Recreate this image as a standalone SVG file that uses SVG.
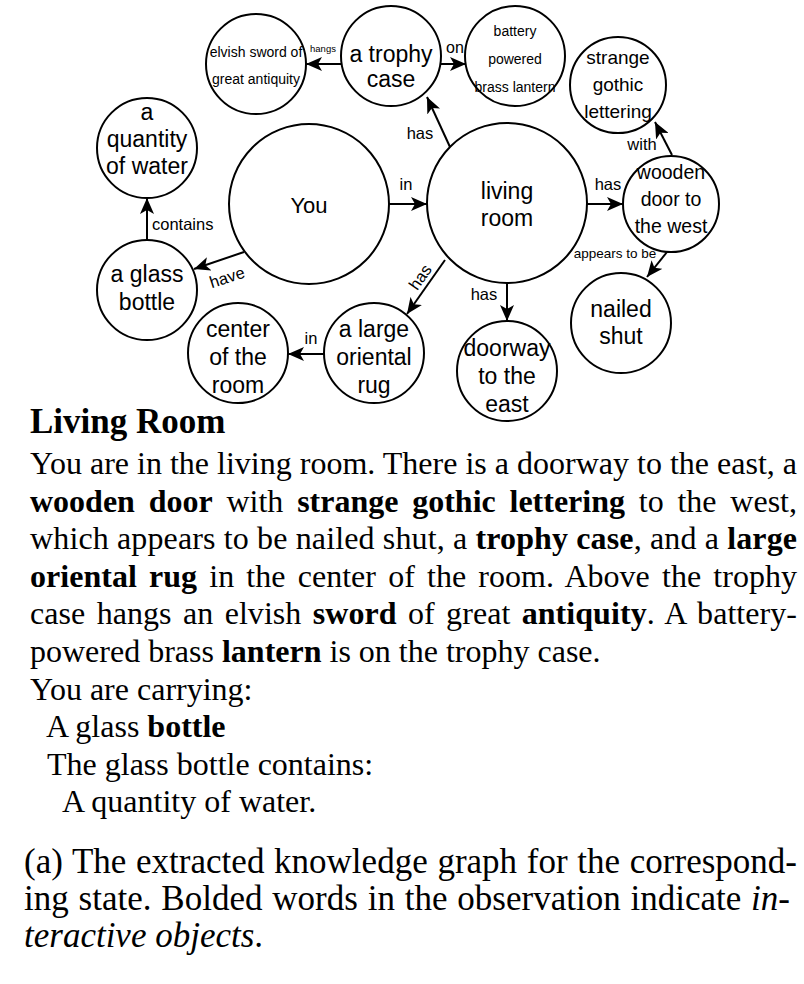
<svg xmlns="http://www.w3.org/2000/svg" width="804" height="984" viewBox="0 0 804 984">
<style>
.node circle { fill:#fff; stroke:#000; stroke-width:2; }
.nt { font-family:"Liberation Sans", Arial, sans-serif; font-size:23px; text-anchor:middle; fill:#000; }
.ns { font-size:14px; }
.nm { font-size:19.5px; }
.edge line { stroke:#000; stroke-width:2; marker-end:url(#arr); }
.el { font-family:"Liberation Sans", Arial, sans-serif; font-size:16.5px; text-anchor:middle; fill:#000; }
.body { font-family:"Liberation Serif", "Times New Roman", serif; font-size:32px; fill:#000; }
.cap { font-family:"Liberation Serif", "Times New Roman", serif; font-size:35px; fill:#000; }
.b { font-weight:bold; }
.i { font-style:italic; }
</style>
<defs>
<marker id="arr" markerUnits="userSpaceOnUse" markerWidth="16" markerHeight="14" refX="16" refY="7" orient="auto">
<path d="M0,0 L16,7 L0,14 L4,7 z" fill="#000"/>
</marker>
</defs>
<rect width="804" height="984" fill="#fff"/>

<g id="n-sword" class="node"><circle cx="256" cy="64" r="50"/><text class="nt ns"><tspan x="256" y="57">elvish sword of</tspan><tspan x="256" y="84">great antiquity</tspan></text></g>
<g id="n-trophy" class="node"><circle cx="391" cy="56" r="50"/><text class="nt"><tspan x="391" y="62">a trophy</tspan><tspan x="391" y="87">case</tspan></text></g>
<g id="n-lantern" class="node"><circle cx="515" cy="56" r="50"/><text class="nt ns"><tspan x="515" y="36">battery</tspan><tspan x="515" y="64">powered</tspan><tspan x="515" y="92">brass lantern</tspan></text></g>
<g id="n-lettering" class="node"><circle cx="618" cy="85" r="48"/><text class="nt" style="font-size:19px"><tspan x="618" y="64">strange</tspan><tspan x="618" y="91">gothic</tspan><tspan x="618" y="118">lettering</tspan></text></g>
<g id="n-door" class="node"><circle cx="671" cy="204" r="48"/><text class="nt nm"><tspan x="671" y="179">wooden</tspan><tspan x="671" y="206">door to</tspan><tspan x="671" y="233">the west</tspan></text></g>
<g id="n-nailed" class="node"><circle cx="621" cy="323" r="50"/><text class="nt"><tspan x="621" y="317">nailed</tspan><tspan x="621" y="344">shut</tspan></text></g>
<g id="n-living" class="node"><circle cx="507" cy="203" r="80"/><text class="nt"><tspan x="507" y="199">living</tspan><tspan x="507" y="226">room</tspan></text></g>
<g id="n-you" class="node"><circle cx="309" cy="204" r="80"/><text class="nt" x="309" y="213" style="font-size:22px">You</text></g>
<g id="n-water" class="node"><circle cx="147" cy="148" r="50"/><text class="nt"><tspan x="147" y="120">a</tspan><tspan x="147" y="147">quantity</tspan><tspan x="147" y="174">of water</tspan></text></g>
<g id="n-bottle" class="node"><circle cx="147" cy="290" r="50"/><text class="nt"><tspan x="147" y="282">a glass</tspan><tspan x="147" y="310">bottle</tspan></text></g>
<g id="n-center" class="node"><circle cx="238" cy="353" r="50"/><text class="nt"><tspan x="238" y="337">center</tspan><tspan x="238" y="365">of the</tspan><tspan x="238" y="393">room</tspan></text></g>
<g id="n-rug" class="node"><circle cx="374" cy="353" r="50"/><text class="nt"><tspan x="374" y="337">a large</tspan><tspan x="374" y="365">oriental</tspan><tspan x="374" y="393">rug</tspan></text></g>
<g id="n-doorway" class="node"><circle cx="507" cy="371" r="50"/><text class="nt"><tspan x="507" y="356">doorway</tspan><tspan x="507" y="384">to the</tspan><tspan x="507" y="412">east</tspan></text></g>

<g id="connectors" class="edge">
<line x1="341" y1="64" x2="306" y2="64"/>
<text class="el" x="323" y="52" style="font-size:9.5px">hangs</text>
<line x1="441" y1="64" x2="466" y2="64"/>
<text class="el" x="455" y="53" style="font-size:16px">on</text>
<line x1="450" y1="147" x2="427" y2="97"/>
<text class="el" x="420" y="139">has</text>
<line x1="389" y1="204" x2="427" y2="204"/>
<text class="el" x="406" y="190">in</text>
<line x1="587" y1="204" x2="623" y2="204"/>
<text class="el" x="608" y="190">has</text>
<line x1="672" y1="155" x2="655" y2="122"/>
<text class="el" x="642" y="150">with</text>
<line x1="667" y1="252" x2="647" y2="277"/>
<text class="el" x="615" y="258" style="font-size:13.5px">appears to be</text>
<line x1="507" y1="283" x2="507" y2="321"/>
<text class="el" x="484" y="300">has</text>
<line x1="445" y1="260" x2="407" y2="314"/>
<text class="el" transform="translate(420,277) rotate(-55)" x="0" y="6">has</text>
<line x1="244" y1="252" x2="194" y2="269"/>
<text class="el" transform="translate(227,277) rotate(-18)" x="0" y="6">have</text>
<line x1="147" y1="240" x2="147" y2="198"/>
<text class="el" x="152" y="230" style="text-anchor:start">contains</text>
<line x1="324" y1="354" x2="288" y2="354"/>
<text class="el" x="311" y="344">in</text>
</g>

<g id="observation">
<text class="body b" x="30" y="433" style="font-size:35px">Living Room</text>
<text class="body" x="30" y="474" textLength="767" lengthAdjust="spacing">You are in the living room. There is a doorway to the east, a</text>
<text class="body" x="30" y="511.6" style="word-spacing:5.8px" textLength="767" lengthAdjust="spacing"><tspan class="b">wooden door</tspan> with <tspan class="b">strange gothic lettering</tspan> to the west,</text>
<text class="body" x="30" y="549.2" textLength="767" lengthAdjust="spacing">which appears to be nailed shut, a <tspan class="b">trophy case</tspan>, and a <tspan class="b">large</tspan></text>
<text class="body" x="30" y="586.8" style="word-spacing:4.1px" textLength="767" lengthAdjust="spacing"><tspan class="b">oriental rug</tspan> in the center of the room. Above the trophy</text>
<text class="body" x="30" y="624.4" style="word-spacing:3.3px" textLength="767" lengthAdjust="spacing">case hangs an elvish <tspan class="b">sword</tspan> of great <tspan class="b">antiquity</tspan>. A battery-</text>
<text class="body" x="30" y="662">powered brass <tspan class="b">lantern</tspan> is on the trophy case.</text>
<text class="body" x="30" y="699.6">You are carrying:</text>
<text class="body" x="46" y="737.2">A glass <tspan class="b">bottle</tspan></text>
<text class="body" x="47" y="774.8">The glass bottle contains:</text>
<text class="body" x="62" y="812.4">A quantity of water.</text>
</g>

<g id="caption">
<text class="cap" x="24" y="873" style="word-spacing:0.9px" textLength="773" lengthAdjust="spacing">(a) The extracted knowledge graph for the correspond-</text>
<text class="cap" x="24" y="910" style="word-spacing:1.1px" textLength="766" lengthAdjust="spacing">ing state. Bolded words in the observation indicate <tspan class="i">in</tspan>-</text>
<text class="cap" x="24" y="947"><tspan class="i">teractive objects</tspan>.</text>
</g>
</svg>
